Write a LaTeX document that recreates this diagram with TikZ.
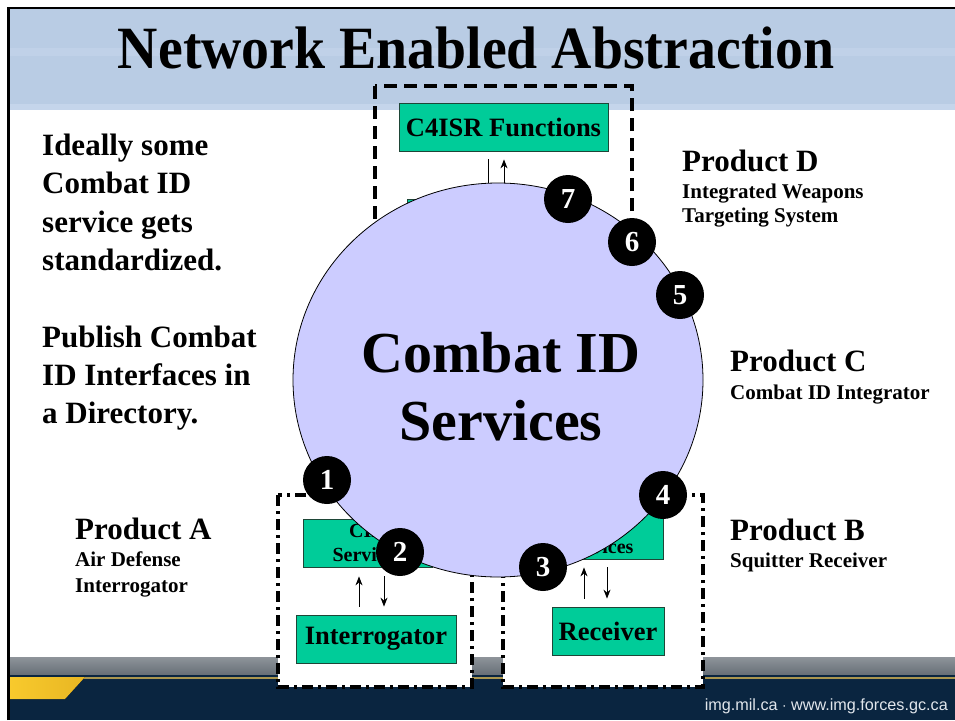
\documentclass[tikz,border=0pt]{standalone}
\usepackage{graphicx}
\usepackage{fontspec}
\setmainfont{Liberation Serif}
\newfontfamily\footfont{Liberation Sans}
\usetikzlibrary{arrows.meta,calc,shapes.geometric}
\definecolor{band}{RGB}{185,204,228}
\definecolor{bandlight}{RGB}{197,213,235}
\definecolor{lav}{RGB}{204,204,255}
\definecolor{grn}{RGB}{0,204,153}
\definecolor{grnedge}{RGB}{30,70,55}
\definecolor{navy}{RGB}{10,37,64}
\definecolor{goldA}{RGB}{248,202,45}
\definecolor{goldB}{RGB}{232,182,35}
\definecolor{goldline}{RGB}{170,150,80}
\definecolor{graytop}{RGB}{142,148,154}
\definecolor{graybot}{RGB}{102,110,118}
\definecolor{foottext}{RGB}{225,230,236}
\begin{document}
\begin{tikzpicture}[x=1pt,y=-1pt,
  gbox/.style={draw=grnedge, line width=0.8pt, fill=grn, inner sep=0pt,
    minimum height=48pt, font=\bfseries\fontsize{26.5}{30}\selectfont},
  sbox/.style={draw=grnedge, line width=0.8pt, fill=grn, inner sep=0pt,
    minimum width=129pt, minimum height=48pt, align=center,
    font=\bfseries\fontsize{20}{24}\selectfont},
  num/.style={circle, fill=black, text=white, minimum size=48pt, inner sep=0pt,
    font=\bfseries\fontsize{29}{29}\selectfont},
  arr/.style={line width=1pt, -{Stealth[length=9pt,width=7pt]}},
  ddash/.style={line width=3.2pt, dash pattern=on 13pt off 7pt},
  dashdot/.style={line width=3.2pt, dash pattern=on 11pt off 5pt on 3pt off 5pt, fill=white},
  body/.style={inner sep=0pt, anchor=base west, font=\bfseries\fontsize{31}{38.3}\selectfont},
  prod/.style={inner sep=0pt, anchor=base west, font=\bfseries\fontsize{31}{31}\selectfont},
  sub/.style={inner sep=0pt, anchor=base west, font=\bfseries\fontsize{21}{24}\selectfont},
]
\useasboundingbox (0,0) rectangle (955,720);
\fill[white] (0,0) rectangle (955,720);
% title band
\fill[band] (9,9) rectangle (955,110);
\fill[bandlight,opacity=0.6] (9,48) rectangle (955,56);
\fill[bandlight] (9,104) rectangle (955,110);
% bottom bar
\fill[top color=graytop, bottom color=graybot] (9,657) rectangle (955,675);
\fill[navy] (9,675) rectangle (955,720);
\draw[goldline, line width=1.5pt] (9,678) -- (955,678);
\fill[left color=goldA, right color=goldB] (9,677) -- (85,677) -- (65,699) -- (9,699) -- cycle;
% borders
\draw[line width=2.5pt] (8.5,720) -- (8.5,8) -- (955,8);
% title
\node[inner sep=0pt, anchor=base, font=\bfseries\fontsize{60}{60}\selectfont] (title) at (476,68)
  {\scalebox{0.93}[1]{Network Enabled Abstraction}};
% footer text
\node[inner sep=0pt, anchor=base east, text=foottext] (foot) at (948,710)
  {\resizebox{243pt}{!}{\footfont img.mil.ca $\cdot$ www.img.forces.gc.ca}};

% Product D group (top)
\draw[ddash] (375,86) rectangle (632,300);
\node[gbox, minimum width=209pt] (c4isr) at (503.5,127) {C4ISR Functions};
\node[sbox, minimum width=166pt] (svcD) at (490,223) {};
\coordinate (dnD) at (488,0);
\coordinate (upD) at (504,0);
\draw[arr, shorten <=8pt] (dnD |- c4isr.south) -- (dnD |- svcD.north);
\draw[arr, shorten >=8pt] (upD |- svcD.north) -- (upD |- c4isr.south);

% Product A group
\draw[dashdot] (278,495) rectangle (472,687);
\node[sbox] (cidA) at (367.5,543) {CID\\Services};
\node[gbox, minimum width=160pt] (interrog) at (376,639) {Interrogator};
\coordinate (upA) at (359,0);
\coordinate (dnA) at (384,0);
\draw[arr, shorten <=8pt, shorten >=9pt] (upA |- interrog.north) -- (upA |- cidA.south);
\draw[arr, shorten <=9pt, shorten >=8pt] (dnA |- cidA.south) -- (dnA |- interrog.north);

% Product B group
\draw[dashdot] (503,495) rectangle (703,687);
\node[sbox] (svcB) at (598.5,535) {CID\\Services};
\node[gbox, minimum width=112pt] (receiver) at (608,631) {Receiver};
\coordinate (upB) at (584,0);
\coordinate (dnB) at (607,0);
\draw[arr, shorten <=8pt, shorten >=8pt] (upB |- receiver.north) -- (upB |- svcB.south);
\draw[arr, shorten <=8pt, shorten >=8pt] (dnB |- svcB.south) -- (dnB |- receiver.north);

% central circle
\node[ellipse, draw=black, line width=0.8pt, fill=lav, minimum width=410pt, minimum height=394pt, inner sep=0pt] (cid) at (498,380) {};
\node[inner sep=0pt, anchor=base, font=\bfseries\fontsize{58}{68}\selectfont] (cidtext) at (501,372)
  {\begin{tabular}[t]{@{}c@{}}Combat ID\\Services\end{tabular}};

% numbers
\node[num] (n1) at (327,480) {1};
\node[num] (n2) at (400,552) {2};
\node[num] (n3) at (543,567) {3};
\node[num] (n4) at (663,495) {4};
\node[num] (n5) at (680,295) {5};
\node[num] (n6) at (632,242) {6};
\node[num] (n7) at (568,199) {7};

% left text
\node[body] (lefttext) at (42,155.5)
  {\begin{tabular}[t]{@{}l@{}}Ideally some\\Combat ID\\service gets\\standardized.\\ \\Publish Combat\\ID Interfaces in\\a Directory.\end{tabular}};

% product labels
\node[prod] (pD) at (682,171) {Product D};
\node[sub] (pDs) at (682,198) {\begin{tabular}[t]{@{}l@{}}Integrated Weapons\\Targeting System\end{tabular}};
\node[prod] (pC) at (730,371) {Product C};
\node[sub] (pCs) at (730,399) {Combat ID Integrator};
\node[prod] (pB) at (730,540) {Product B};
\node[sub] (pBs) at (730,567) {Squitter Receiver};
\node[prod] (pA) at (75,539) {Product A};
\node[sub, font=\bfseries\fontsize{21}{26}\selectfont] (pAs) at (75,566) {\begin{tabular}[t]{@{}l@{}}Air Defense\\Interrogator\end{tabular}};
\end{tikzpicture}
\end{document}
